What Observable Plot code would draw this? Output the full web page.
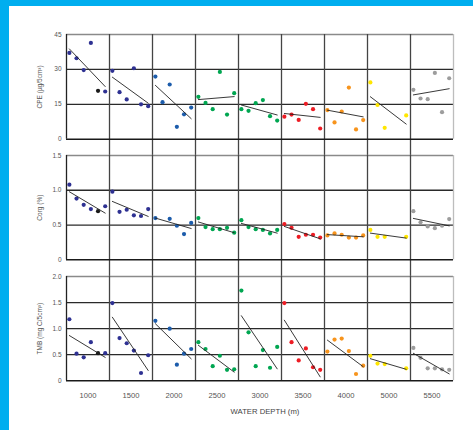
<!DOCTYPE html>
<html><head><meta charset="utf-8">
<script src="https://cdn.jsdelivr.net/npm/d3@7"></script>
<script src="https://cdn.jsdelivr.net/npm/@observablehq/plot@0.6"></script>
<style>
html{background:#00AEEF;}
body{margin:0;background:#00AEEF;width:473px;height:430px;overflow:hidden;position:relative;font-family:"Liberation Sans",Arial,sans-serif;}
#panel{position:absolute;left:9px;top:6px;width:464px;height:424px;background:#fff;}
.row{position:absolute;left:0;width:464px;}
#xtitle{position:absolute;left:156px;width:200px;text-align:center;top:401px;font-size:7.7px;line-height:9px;color:#444;}
</style></head>
<body><div id="panel">
<div id="r1" class="row" style="top:18px"></div>
<div id="r2" class="row" style="top:139px"></div>
<div id="r3" class="row" style="top:260px"></div>
<div id="xtitle">WATER DEPTH (m)</div>
</div>
<script>
const depthLabels = ["1000","1500","2000","2500","3000","3500","4000","5000","5500"];
const colColors = ["#2E3192","#2E3192","#1C5CAB","#00A651","#00A651","#ED1C24","#F7941D","#FFE600","#9D9D9D"];
const blackPoint = {col: 0, idx: 4, color: "#1a1a1a"};
const cpeTicks = [0, 15, 30, 45];
const corgTicks = [0, 0.5, 1.0, 1.5];
const tmbTicks = [0, 0.5, 1.0, 1.5, 2.0];
const cpe = [
 [37.1,34.8,29.7,41.4,20.8,20.5],
 [29.4,20.2,17.1,30.5,15.0,14.2],
 [26.9,15.9,23.5,5.3,10.7,13.6],
 [18.2,15.6,12.9,28.9,10.6,19.8],
 [12.9,12.2,15.5,16.8,9.9,8.0],
 [9.7,10.6,8.3,15.2,12.9,4.6],
 [12.5,7.2,11.9,22.2,4.2,8.2],
 [24.4,14.7,4.9,null,null,10.2],
 [21.2,17.5,17.2,28.5,11.6,26.2]
];
const corg = [
 [1.08,0.88,0.79,0.73,0.70,0.77],
 [0.98,0.69,0.72,0.64,0.63,0.73],
 [0.60,null,0.59,0.49,0.37,0.53],
 [0.60,0.47,0.44,0.44,0.46,0.39],
 [0.57,0.47,0.44,0.43,0.38,0.43],
 [0.515,0.46,0.33,0.36,0.36,0.32],
 [0.35,0.38,0.36,0.32,0.32,0.35],
 [0.43,0.33,0.33,null,null,0.33],
 [0.70,0.54,0.48,0.455,0.49,0.585]
];
const tmb = [
 [1.18,0.52,0.45,0.74,0.53,0.53],
 [1.49,0.82,0.72,0.58,0.15,0.49],
 [1.15,null,1.00,0.31,0.52,0.61],
 [0.74,0.61,0.28,0.48,0.21,0.22],
 [1.73,0.93,0.28,0.59,0.25,0.65],
 [1.49,0.74,0.39,0.62,0.26,0.21],
 [0.56,0.79,0.81,0.57,0.13,0.29],
 [0.48,0.33,0.32,null,null,0.24],
 [0.63,0.44,0.24,0.24,0.22,0.21]
];

const xDomain = [-0.4, 5.6];
function toRows(values) {
  return values.flatMap((arr, c) => arr.map((v, i) => ({
    col: depthLabels[c], idx: i, v,
    fill: (c === blackPoint.col && i === blackPoint.idx) ? blackPoint.color : colColors[c]
  }))).filter(d => d.v != null);
}
const fmt1 = d => d === 0 ? "0" : d.toFixed(1);
const specs = [
  {el: "#r1", values: cpe, ticks: cpeTicks, fmt: d => String(d), label: "CPE (µg/5cm³)", h: 104.7, mb: 16.3, last: false},
  {el: "#r2", values: corg, ticks: corgTicks, fmt: fmt1, label: "Corg (%)", h: 104.3, mb: 16.7, last: false},
  {el: "#r3", values: tmb, ticks: tmbTicks, fmt: fmt1, label: "TMB (mg C/5cm³)", h: 104.3, mb: 40, last: true}
];
for (const s of specs) {
  const data = toRows(s.values);
  const max = s.ticks[s.ticks.length - 1];
  const grid = s.ticks.slice(1, -1);
  const marginTop = 10;
  const marks = [
    Plot.ruleY(grid, {stroke: "#2a2a2a", strokeWidth: 1.3}),
    Plot.ruleY([max], {stroke: "#8a8a8a", strokeWidth: 1.3}),
    Plot.ruleX([xDomain[1]], {fx: [depthLabels[8]], stroke: "#bdbdbd", strokeWidth: 1.3}),
    Plot.ruleX(depthLabels.slice(1), {x: () => xDomain[0], fx: d => d, stroke: "#444", strokeWidth: 1.3, insetBottom: s.last ? 0 : -s.mb}),
    Plot.ruleX([xDomain[0]], {fx: [depthLabels[0]], stroke: "#222", strokeWidth: 1.3}),
    Plot.ruleY([0], {stroke: "#1a1a1a", strokeWidth: 1.5}),
    Plot.dot(data, {x: "idx", y: "v", fx: "col", fill: "fill", r: 2.1}),
    Plot.linearRegressionY(data, {x: "idx", y: "v", fx: "col", stroke: "#222", strokeWidth: 0.9, ci: 0}),
    Plot.axisY({ticks: s.ticks, tickFormat: s.fmt, tickSize: 0, tickPadding: 5, fontSize: 6.5, fill: "#555",
      label: s.label, labelAnchor: "center", labelOffset: 29.5, labelArrow: "none"})
  ];
  if (s.last) marks.push(Plot.axisFx({anchor: "bottom", tickSize: 0, tickPadding: 12, fontSize: 7.6, fill: "#555", label: null}));
  const chart = Plot.plot({
    width: 464, height: marginTop + s.h + s.mb,
    marginLeft: 55.3, marginRight: 18, marginTop, marginBottom: s.mb,
    style: {background: "transparent", fontFamily: "'Liberation Sans', Arial, sans-serif", color: "#555", overflow: "visible"},
    fx: {domain: depthLabels, padding: 0, axis: null, label: null},
    x: {domain: xDomain, axis: null},
    y: {domain: [0, max], axis: null},
    color: {type: "identity"},
    marks
  });
  document.querySelector(s.el).appendChild(chart);
}
</script>
</body></html>
